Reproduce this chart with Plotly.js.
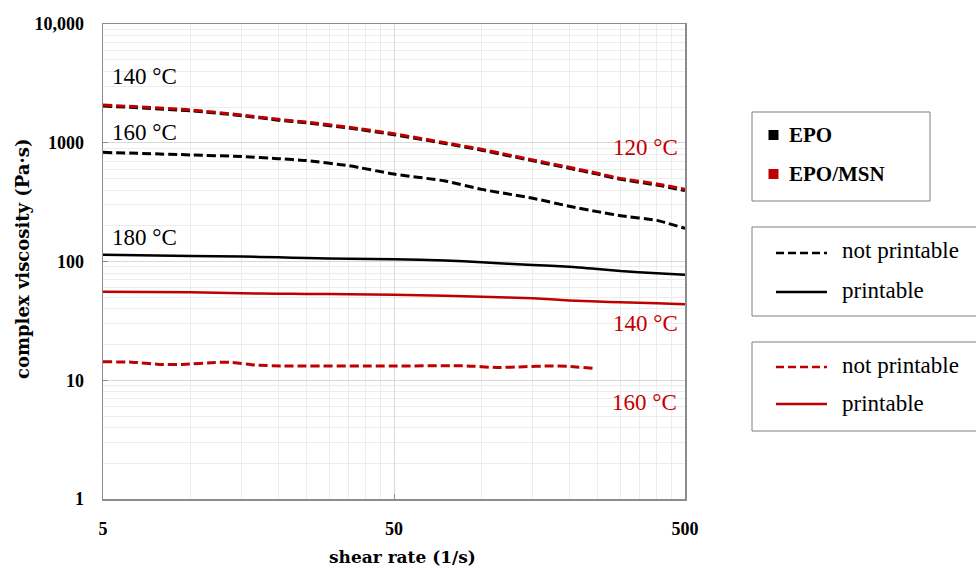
<!DOCTYPE html>
<html>
<head>
<meta charset="utf-8">
<script src="https://cdn.plot.ly/plotly-3.0.1.min.js"></script>
<style>
  html, body { margin: 0; padding: 0; background: #ffffff; }
  #chart { width: 976px; height: 568px; }
</style>
</head>
<body>
<div id="chart"></div>
<script>
// Complex viscosity vs. shear rate for EPO and EPO/MSN inks at several temperatures

const shearRate = [5, 10, 15, 20, 25, 35, 50, 75, 100, 150, 200, 250, 300, 400, 500];

// EPO/MSN 120 °C (not printable)
const msn120 = [2080, 1890, 1710, 1575, 1495, 1350, 1190, 1000, 881, 716, 621, 553, 501, 450, 406];
// EPO 140 °C (not printable)
const epo140 = [2040, 1860, 1690, 1550, 1470, 1330, 1170, 985, 866, 705, 610, 544, 492, 441, 396];
// EPO 160 °C (not printable)
const epo160 = [830, 790, 765, 735, 708, 640, 545, 476, 405, 341, 292, 263, 243, 222, 190];
// EPO 180 °C (printable)
const epo180 = [114, 111, 110, 108.5, 107, 105.5, 104.5, 102, 98.5, 93.5, 90.5, 86.5, 83, 79.5, 77.5];
// EPO/MSN 140 °C (printable)
const msn140 = [55.7, 55, 54, 53.6, 53.3, 53, 52.5, 51.5, 50.6, 49, 47, 46, 45.3, 44.5, 43.6];

// EPO/MSN 160 °C (not printable), measured up to ~240 1/s
const shearRate160 = [5, 6.3, 7.8, 9.4, 12.2, 13.6, 16.8, 20.7, 50, 89, 113, 140, 171, 197, 241];
const msn160 = [14.3, 14.2, 13.6, 13.6, 14.1, 14.2, 13.4, 13.2, 13.2, 13.2, 12.8, 13.0, 13.2, 13.1, 12.6];

const xTickVals = [5, 50, 500];
const xTickText = ['5', '50', '500'];
const yTickVals = [1, 10, 100, 1000, 10000];
const yTickText = ['1', '10', '100', '1000', '10,000'];

const BLACK = '#000000';
const RED = '#c00000';
const SERIF = 'Palatino Linotype, Book Antiqua, Liberation Serif, serif';
const TITLE_FONT = 'Palatino Linotype, DejaVu Serif, serif';
const DASH = '9px,4px';

// plot-area geometry (pixels) used to place the side boxes
const W = 976, H = 568;
const L = 103, R = 685, T = 24, B = 499;
const px = x => (x - L) / (R - L);
const py = y => (B - y) / (B - T);

function line(x, y, color, dashed, width) {
  return {
    x: x, y: y, type: 'scatter', mode: 'lines', showlegend: false, hoverinfo: 'skip',
    line: { color: color, width: width, dash: dashed ? DASH : 'solid', shape: 'spline', smoothing: 0.5 }
  };
}

const traces = [
  line(shearRate, epo140, BLACK, true, 3),
  line(shearRate, msn120, RED, true, 3),
  line(shearRate, epo160, BLACK, true, 3),
  line(shearRate, epo180, BLACK, false, 2.5),
  line(shearRate, msn140, RED, false, 2.5),
  line(shearRate160, msn160, RED, true, 3)
];

// minor grid positions
const xMinor = [];
for (let v = 10; v < 50; v += 5) xMinor.push(v);
for (let v = 100; v < 500; v += 50) xMinor.push(v);
const yMinor = [];
[1, 10, 100, 1000].forEach(d => { for (let k = 2; k <= 9; k++) yMinor.push(k * d); });

// text labels on the curves
function label(text, xLeft, yMid, color) {
  return {
    text: text, xref: 'paper', yref: 'paper', x: px(xLeft), y: py(yMid),
    xanchor: 'left', yanchor: 'middle', showarrow: false,
    font: { family: SERIF, size: 23, color: color }
  };
}

// side boxes
const boxStyle = { color: '#7f7f7f', width: 1 };
function rect(x0, y0, x1, y1) {
  return { type: 'rect', xref: 'paper', yref: 'paper', x0: px(x0), x1: px(x1), y0: py(y0), y1: py(y1),
           line: boxStyle, fillcolor: 'rgba(0,0,0,0)' };
}
function sample(x0, x1, y, color, dashed) {
  return { type: 'line', xref: 'paper', yref: 'paper', x0: px(x0), x1: px(x1), y0: py(y), y1: py(y),
           line: { color: color, width: 2.5, dash: dashed ? '8px,4px' : 'solid' } };
}
function square(cx, cy, color) {
  return { type: 'rect', xref: 'paper', yref: 'paper', x0: px(cx - 5), x1: px(cx + 5), y0: py(cy + 5), y1: py(cy - 5),
           line: { width: 0 }, fillcolor: color };
}
function boxText(text, xLeft, yMid, bold) {
  return {
    text: bold ? '<b>' + text + '</b>' : text, xref: 'paper', yref: 'paper', x: px(xLeft), y: py(yMid),
    xanchor: 'left', yanchor: 'middle', showarrow: false,
    font: { family: SERIF, size: bold ? 21 : 23, color: '#000000' }
  };
}

const shapes = [
  rect(752, 112, 930, 201),
  square(773.5, 135, BLACK),
  square(773.5, 174, RED),
  rect(752, 227, 990, 316),
  sample(776, 827, 253, BLACK, true),
  sample(776, 827, 292, BLACK, false),
  rect(752, 342, 990, 431),
  sample(776, 827, 367, RED, true),
  sample(776, 827, 404, RED, false)
];

const annotations = [
  label('140 °C', 110, 77, BLACK),
  label('160 °C', 110, 132, BLACK),
  label('180 °C', 110, 237, BLACK),
  label('120 °C', 611, 147, RED),
  label('140 °C', 611, 323, RED),
  label('160 °C', 610, 402, RED),
  boxText('EPO', 787, 135, true),
  boxText('EPO/MSN', 787, 174, true),
  boxText('not printable', 840, 250, false),
  boxText('printable', 840, 290, false),
  boxText('not printable', 840, 365, false),
  boxText('printable', 840, 403, false),
  {
    text: '<b>shear rate (1/s)</b>', xref: 'paper', yref: 'paper', x: px(402), y: py(557),
    xanchor: 'center', yanchor: 'middle', showarrow: false,
    font: { family: TITLE_FONT, size: 17, color: '#000000' }
  },
  {
    text: '<b>complex viscosity (Pa·s)</b>', xref: 'paper', yref: 'paper', x: px(22), y: py(259),
    xanchor: 'center', yanchor: 'middle', showarrow: false, textangle: -90,
    font: { family: TITLE_FONT, size: 18, color: '#000000' }
  }
];

const axisCommon = {
  showline: true, linecolor: '#8c8c8c', linewidth: 1.5, mirror: true,
  showgrid: true, gridcolor: '#d9d9d9', gridwidth: 1,
  ticks: 'inside', ticklen: 5, tickcolor: '#8c8c8c', tickwidth: 1,
  zeroline: false, fixedrange: true,
  tickfont: { family: SERIF, size: 18, color: '#000000', weight: 'bold' }
};

const layout = {
  width: W, height: H,
  margin: { l: L, r: W - R, t: T, b: H - B, pad: 0 },
  paper_bgcolor: '#ffffff', plot_bgcolor: '#ffffff',
  showlegend: false,
  xaxis: Object.assign({}, axisCommon, {
    type: 'log', range: [Math.log10(5), Math.log10(500)],
    tickmode: 'array', tickvals: xTickVals, ticktext: xTickText,
    ticklabelstandoff: 13,
    minor: { tickmode: 'array', tickvals: xMinor, showgrid: true, gridcolor: '#ececec', gridwidth: 1, ticks: '' }
  }),
  yaxis: Object.assign({}, axisCommon, {
    type: 'log', range: [0, 4],
    tickmode: 'array', tickvals: yTickVals, ticktext: yTickText,
    ticklabelstandoff: 14,
    minor: { tickmode: 'array', tickvals: yMinor, showgrid: true, gridcolor: '#ececec', gridwidth: 1, ticks: '' }
  }),
  shapes: shapes,
  annotations: annotations
};

Plotly.newPlot('chart', traces, layout, { staticPlot: true, displayModeBar: false });
</script>
</body>
</html>
